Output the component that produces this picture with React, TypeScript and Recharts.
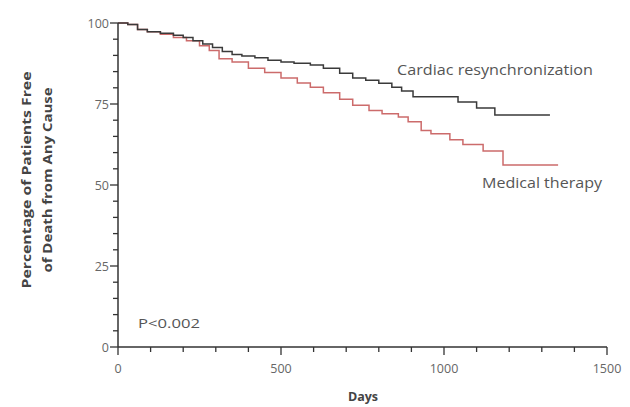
import React from "react";
import { LineChart, Line, XAxis, YAxis } from "recharts";

const crtDays = [0, 30, 60, 90, 130, 170, 200, 230, 260, 290, 320, 350, 380, 420, 460, 500, 540, 590, 630, 680, 720, 760, 800, 840, 870, 905, 1043, 1100, 1156, 1325];
const crtValues = [100, 99.5, 98, 97.3, 96.8, 96.2, 95.5, 94.5, 93.5, 92.4, 91.2, 90.3, 89.8, 89.3, 88.5, 88, 87.6, 87, 86, 84.5, 83, 82.3, 81.4, 80.2, 79, 77.2, 75.6, 73.8, 71.6, 71.6];

const medDays = [0, 30, 60, 90, 130, 170, 210, 250, 280, 310, 350, 400, 450, 500, 550, 590, 630, 680, 720, 770, 810, 860, 890, 930, 960, 1018, 1058, 1120, 1181, 1350];
const medValues = [100, 99.5, 98, 97.3, 96.5, 95.5, 94.5, 93, 91.5, 89, 88, 86, 84.7, 83, 81.5, 80.2, 78.5, 76.5, 74.6, 73, 72, 71, 69.5, 66.8, 65.8, 64, 62.5, 60.5, 56.2, 56.2];

const xTicks = [0, 100, 200, 300, 400, 500, 600, 700, 800, 900, 1000, 1100, 1200, 1300, 1400, 1500];
const yTicks = [0, 5, 10, 15, 20, 25, 30, 35, 40, 45, 50, 55, 60, 65, 70, 75, 80, 85, 90, 95, 100];

const crtData = crtDays.map((d, i) => ({ d, v: crtValues[i] }));
const medData = medDays.map((d, i) => ({ d, v: medValues[i] }));

const FONT = "'Open Sans', 'Noto Sans', sans-serif";
const AXIS = "#333";

const YTick = (props: any) => {
  const { x, y, payload } = props;
  const major = payload.value % 25 === 0;
  return (
    <g>
      <line x1={x - (major ? 8 : 5)} x2={x} y1={y} y2={y} stroke={AXIS} strokeWidth={1.3} />
      {major && (
        <text x={x - 9} y={y} dy={4.5} textAnchor="end" fontFamily={FONT} fontSize={12.5} fill="#666">
          {payload.value}
        </text>
      )}
    </g>
  );
};

const XTick = (props: any) => {
  const { x, y, payload } = props;
  const major = payload.value % 500 === 0;
  return (
    <g>
      <line x1={x} x2={x} y1={y} y2={y + (major ? 8 : 5)} stroke={AXIS} strokeWidth={1.3} />
      {major && (
        <text x={x} y={y + 26} textAnchor="middle" fontFamily={FONT} fontSize={12.5} fill="#666">
          {payload.value}
        </text>
      )}
    </g>
  );
};

export default function App() {
  return (
    <div style={{ position: "relative", width: 622, height: 399 }}>
      <LineChart width={622} height={399} margin={{ top: 15, right: 23, bottom: 0, left: 0 }}>
        <XAxis
          type="number"
          dataKey="d"
          domain={[0, 1500]}
          ticks={xTicks}
          tickSize={0}
          tickMargin={0}
          tick={<XTick />}
          height={60}
          stroke={AXIS}
          strokeWidth={1.5}
          interval={0}
        />
        <YAxis
          type="number"
          domain={[0, 100]}
          ticks={yTicks}
          tickSize={0}
          tickMargin={0}
          tick={<YTick />}
          width={110}
          stroke={AXIS}
          strokeWidth={1.5}
          interval={0}
        />
        <Line data={medData} dataKey="v" type="stepAfter" stroke="#cc6b6b" strokeWidth={1.5} dot={false} isAnimationActive={false} />
        <Line data={crtData} dataKey="v" type="stepAfter" stroke="#3a3a3a" strokeWidth={1.5} dot={false} isAnimationActive={false} />
      </LineChart>
      <svg width={622} height={399} style={{ position: "absolute", left: 0, top: 0, pointerEvents: "none" }}>
        <text x={389} y={67} fontFamily={FONT} fontSize={14} fill="#555" textLength={196} lengthAdjust="spacingAndGlyphs">
          Cardiac resynchronization
        </text>
        <text x={474} y={180} fontFamily={FONT} fontSize={14} fill="#555" textLength={120} lengthAdjust="spacingAndGlyphs">
          Medical therapy
        </text>
        <text x={130} y={320} fontFamily={FONT} fontSize={13.5} fill="#555" textLength={62} lengthAdjust="spacingAndGlyphs">
          P&lt;0.002
        </text>
        <text
          transform="translate(23,172) rotate(-90)"
          textAnchor="middle"
          fontFamily={FONT}
          fontWeight="bold"
          fontSize={13}
          fill="#444"
          textLength={217}
          lengthAdjust="spacingAndGlyphs"
        >
          Percentage of Patients Free
        </text>
        <text
          transform="translate(44,172) rotate(-90)"
          textAnchor="middle"
          fontFamily={FONT}
          fontWeight="bold"
          fontSize={13}
          fill="#444"
          textLength={185}
          lengthAdjust="spacingAndGlyphs"
        >
          of Death from Any Cause
        </text>
        <text x={355} y={393} textAnchor="middle" fontFamily={FONT} fontWeight="bold" fontSize={12.5} fill="#444">
          Days
        </text>
      </svg>
    </div>
  );
}
